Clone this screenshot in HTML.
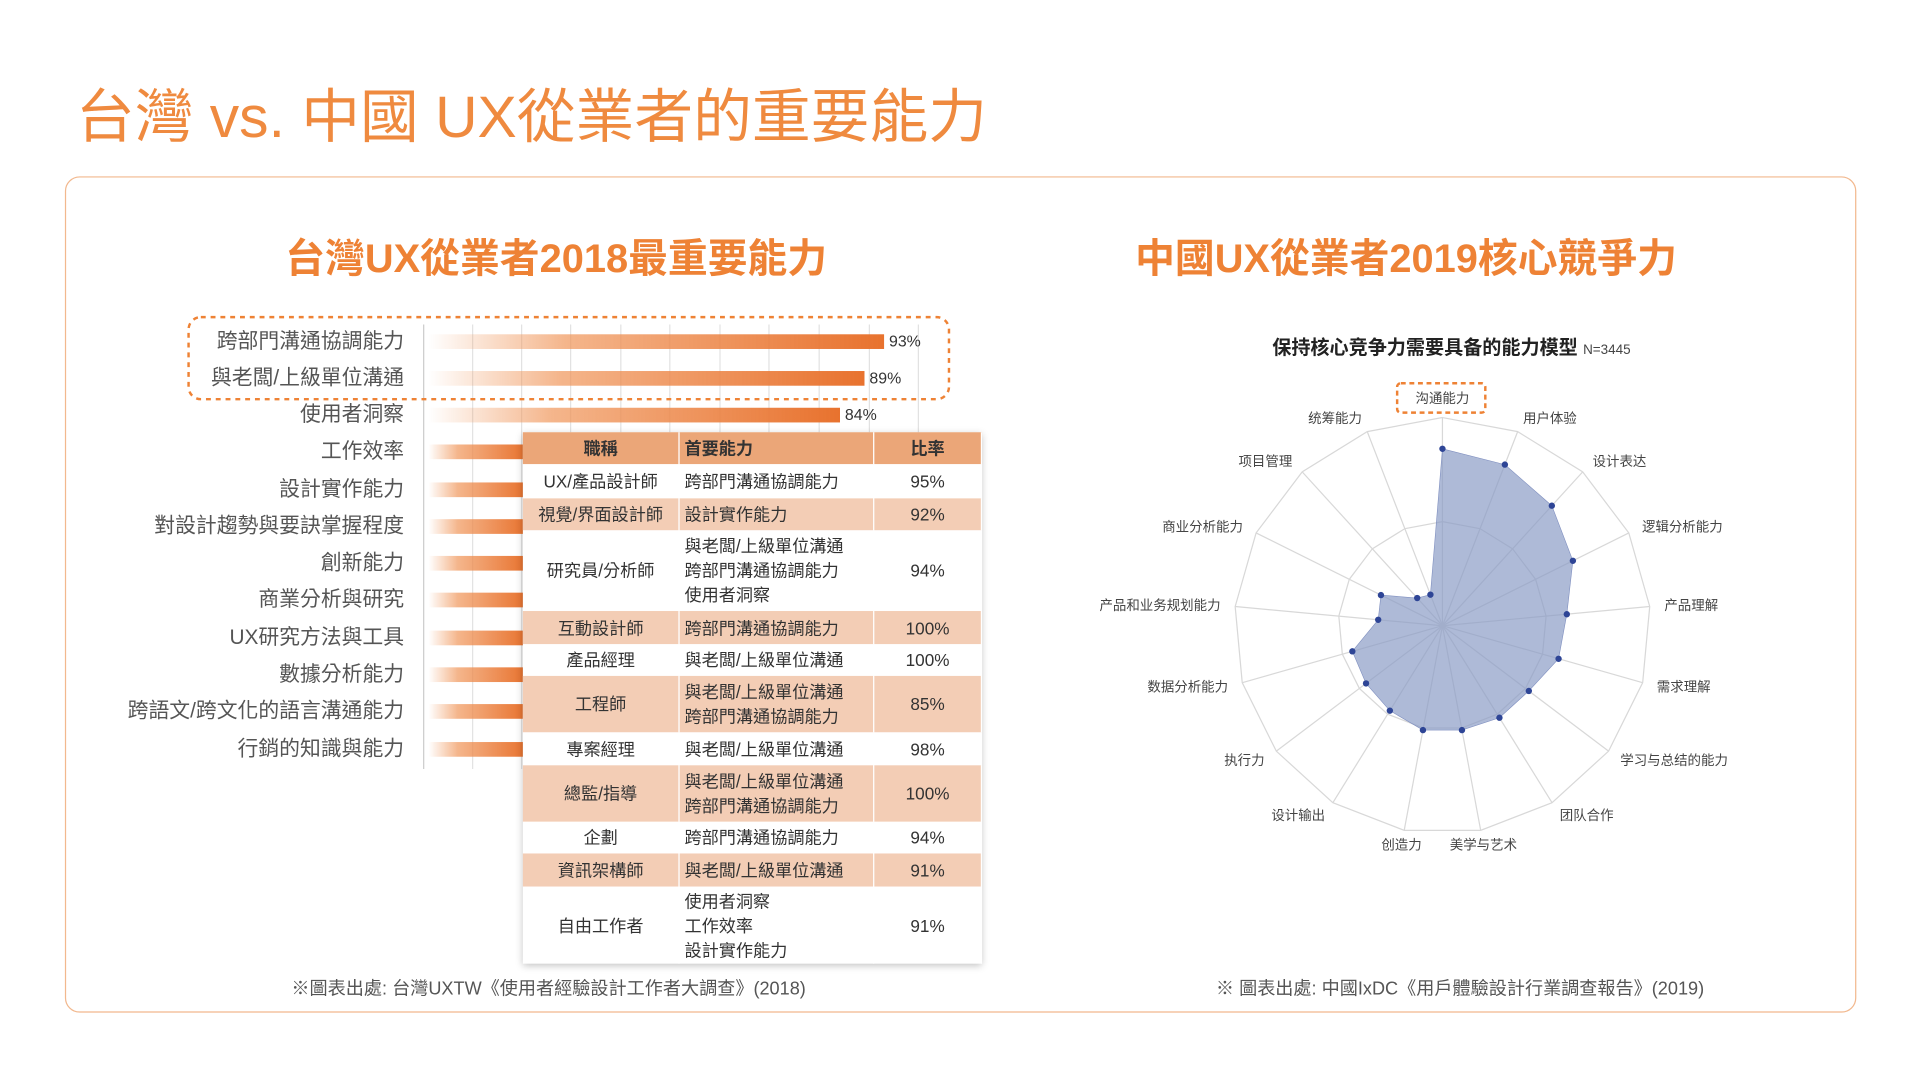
<!DOCTYPE html>
<html><head><meta charset="utf-8">
<style>
html,body{margin:0;padding:0;background:#fff;width:1920px;height:1080px;overflow:hidden}
#w{position:absolute;left:0;top:0;width:1568px;height:882px;transform:scale(1.22449);transform-origin:0 0;font-family:"Liberation Sans","Noto Sans CJK TC",sans-serif}
.a{position:absolute;white-space:nowrap}
.t1{left:62px;top:56px;font-size:48px;color:#EF8A3F}
.box{left:53px;top:144px;width:1461px;height:681px;border:1px solid #F2B88E;border-radius:12px}
.sub{top:185px;font-size:32.5px;font-weight:bold;color:#EE8235}
.lab{right:1238px;font-size:17px;color:#555;line-height:20px}
.bar{left:350px;height:12px;background:linear-gradient(to right,rgba(232,114,46,0),rgba(240,150,90,.7) 30%,#E8722E)}
.pct{font-size:13px;color:#333}
table{position:absolute;left:427px;top:353px;width:375px;border-collapse:collapse;font-size:14px;color:#333;box-shadow:0 2px 6px rgba(0,0,0,.25);background:#fff}
td,th{padding:0 4px;line-height:20px;border-right:1px solid #fff}
th{background:#EBA678;height:26px;font-weight:bold}
tr.p td{background:#F3CDB5}
.c1{text-align:center;width:119px}.c2{text-align:left;width:150px}.c3{text-align:center}
.fn{top:796px;font-size:14.8px;color:#555}
</style></head><body><div id="w">
<div class="a t1">台灣 vs. 中國 UX從業者的重要能力</div>
<div class="a box"></div>
<div class="a sub" style="left:233px">台灣UX從業者2018最重要能力</div>
<div class="a sub" style="left:927px">中國UX從業者2019核心競爭力</div>
<svg class="a" style="left:0;top:0" width="1568" height="882">
<g stroke="#e2e2e2" stroke-width="1">
<line x1="386" y1="265" x2="386" y2="628"/><line x1="426" y1="265" x2="426" y2="628"/><line x1="466" y1="265" x2="466" y2="628"/><line x1="507" y1="265" x2="507" y2="628"/><line x1="547" y1="265" x2="547" y2="628"/><line x1="588" y1="265" x2="588" y2="628"/><line x1="628" y1="265" x2="628" y2="628"/><line x1="669" y1="265" x2="669" y2="628"/><line x1="710" y1="265" x2="710" y2="628"/><line x1="750" y1="265" x2="750" y2="628"/>
</g>
<line x1="346" y1="265" x2="346" y2="628" stroke="#ccc"/>
<rect x="154" y="259" width="621" height="67" rx="10" fill="none" stroke="#EE8235" stroke-width="2" stroke-dasharray="4,4"/>
<rect x="1141" y="313" width="72" height="24" rx="3" fill="none" stroke="#EE8235" stroke-width="2" stroke-dasharray="4,3"/>
<g id="radar"></g>
</svg>
<div class="a lab" style="top:269px">跨部門溝通協調能力</div>
<div class="a lab" style="top:299px">與老闆/上級單位溝通</div>
<div class="a lab" style="top:329px">使用者洞察</div>
<div class="a lab" style="top:359px">工作效率</div>
<div class="a lab" style="top:390px">設計實作能力</div>
<div class="a lab" style="top:420px">對設計趨勢與要訣掌握程度</div>
<div class="a lab" style="top:450px">創新能力</div>
<div class="a lab" style="top:480px">商業分析與研究</div>
<div class="a lab" style="top:511px">UX研究方法與工具</div>
<div class="a lab" style="top:541px">數據分析能力</div>
<div class="a lab" style="top:571px">跨語文/跨文化的語言溝通能力</div>
<div class="a lab" style="top:602px">行銷的知識與能力</div>
<div class="a bar" style="top:273px;width:372px"></div>
<div class="a bar" style="top:303px;width:356px"></div>
<div class="a bar" style="top:333px;width:336px"></div>
<div class="a bar" style="top:363px;width:80px"></div>
<div class="a bar" style="top:394px;width:80px"></div>
<div class="a bar" style="top:424px;width:80px"></div>
<div class="a bar" style="top:454px;width:80px"></div>
<div class="a bar" style="top:484px;width:80px"></div>
<div class="a bar" style="top:515px;width:80px"></div>
<div class="a bar" style="top:545px;width:80px"></div>
<div class="a bar" style="top:575px;width:80px"></div>
<div class="a bar" style="top:606px;width:80px"></div>
<div class="a pct" style="left:726px;top:271px">93%</div>
<div class="a pct" style="left:710px;top:301px">89%</div>
<div class="a pct" style="left:690px;top:331px">84%</div>
<table>
<tr><th class="c1">職稱</th><th class="c2">首要能力</th><th class="c3">比率</th></tr>
<tr style="height:28px"><td class="c1">UX/產品設計師</td><td class="c2">跨部門溝通協調能力</td><td class="c3">95%</td></tr>
<tr class="p" style="height:26px"><td class="c1">視覺/界面設計師</td><td class="c2">設計實作能力</td><td class="c3">92%</td></tr>
<tr style="height:66px"><td class="c1">研究員/分析師</td><td class="c2">與老闆/上級單位溝通<br>跨部門溝通協調能力<br>使用者洞察</td><td class="c3">94%</td></tr>
<tr class="p" style="height:27px"><td class="c1">互動設計師</td><td class="c2">跨部門溝通協調能力</td><td class="c3">100%</td></tr>
<tr style="height:26px"><td class="c1">產品經理</td><td class="c2">與老闆/上級單位溝通</td><td class="c3">100%</td></tr>
<tr class="p" style="height:46px"><td class="c1">工程師</td><td class="c2">與老闆/上級單位溝通<br>跨部門溝通協調能力</td><td class="c3">85%</td></tr>
<tr style="height:27px"><td class="c1">專案經理</td><td class="c2">與老闆/上級單位溝通</td><td class="c3">98%</td></tr>
<tr class="p" style="height:46px"><td class="c1">總監/指導</td><td class="c2">與老闆/上級單位溝通<br>跨部門溝通協調能力</td><td class="c3">100%</td></tr>
<tr style="height:26px"><td class="c1">企劃</td><td class="c2">跨部門溝通協調能力</td><td class="c3">94%</td></tr>
<tr class="p" style="height:27px"><td class="c1">資訊架構師</td><td class="c2">與老闆/上級單位溝通</td><td class="c3">91%</td></tr>
<tr style="height:63px"><td class="c1">自由工作者</td><td class="c2">使用者洞察<br>工作效率<br>設計實作能力</td><td class="c3">91%</td></tr>
</table>
<div class="a fn" style="left:238px">※圖表出處: 台灣UXTW《使用者經驗設計工作者大調查》(2018)</div>
<div class="a fn" style="left:993px">※ 圖表出處: 中國IxDC《用戶體驗設計行業調查報告》(2019)</div>
<div class="a" style="left:1039px;top:272px;font-size:15.6px;font-weight:bold;color:#222;font-family:'Liberation Sans','Noto Sans CJK SC',sans-serif">保持核心竞争力需要具备的能力模型 <span style="font-size:11px;font-weight:normal;color:#444">N=3445</span></div>
</div>
<script>
var cx=1178,cy=511,R=170,n=17;
var L=["沟通能力","用户体验","设计表达","逻辑分析能力","产品理解","需求理解","学习与总结的能力","团队合作","美学与艺术","创造力","设计输出","执行力","数据分析能力","产品和业务规划能力","商业分析能力","项目管理","统筹能力"];
var V=[.85,.83,.78,.70,.60,.58,.52,.52,.51,.51,.48,.46,.45,.31,.33,.18,.16];
function P(i,r){var a=i*2*Math.PI/n;return [cx+r*Math.sin(a),cy-r*Math.cos(a)];}
var s='';
[1,.5].forEach(function(f){var p=[];for(var i=0;i<n;i++)p.push(P(i,R*f).join(','));s+='<polygon points="'+p.join(' ')+'" fill="none" stroke="#d8d8d8"/>';});
for(var i=0;i<n;i++){var q=P(i,R);s+='<line x1="'+cx+'" y1="'+cy+'" x2="'+q[0]+'" y2="'+q[1]+'" stroke="#d8d8d8"/>';}
var p=[];for(var i=0;i<n;i++)p.push(P(i,R*V[i]).join(','));
s+='<polygon points="'+p.join(' ')+'" fill="#8C9CC6" fill-opacity=".7" stroke="#8090c0" stroke-width=".5"/>';
for(var i=0;i<n;i++){var q=P(i,R*V[i]);s+='<circle cx="'+q[0]+'" cy="'+q[1]+'" r="2.6" fill="#2E4596"/>';}
for(var i=0;i<n;i++){var q=P(i,i==0?186:182);var sx=Math.sin(i*2*Math.PI/n);var an=Math.abs(sx)<.2?'middle':(sx>0?'start':'end');
if(i==0)an='middle';
s+='<text x="'+q[0]+'" y="'+(q[1]+4)+'" text-anchor="'+an+'" font-size="11" fill="#444" font-family="Liberation Sans,Noto Sans CJK SC,sans-serif">'+L[i]+'</text>';}
document.getElementById('radar').innerHTML=s;
</script>
</body></html>
